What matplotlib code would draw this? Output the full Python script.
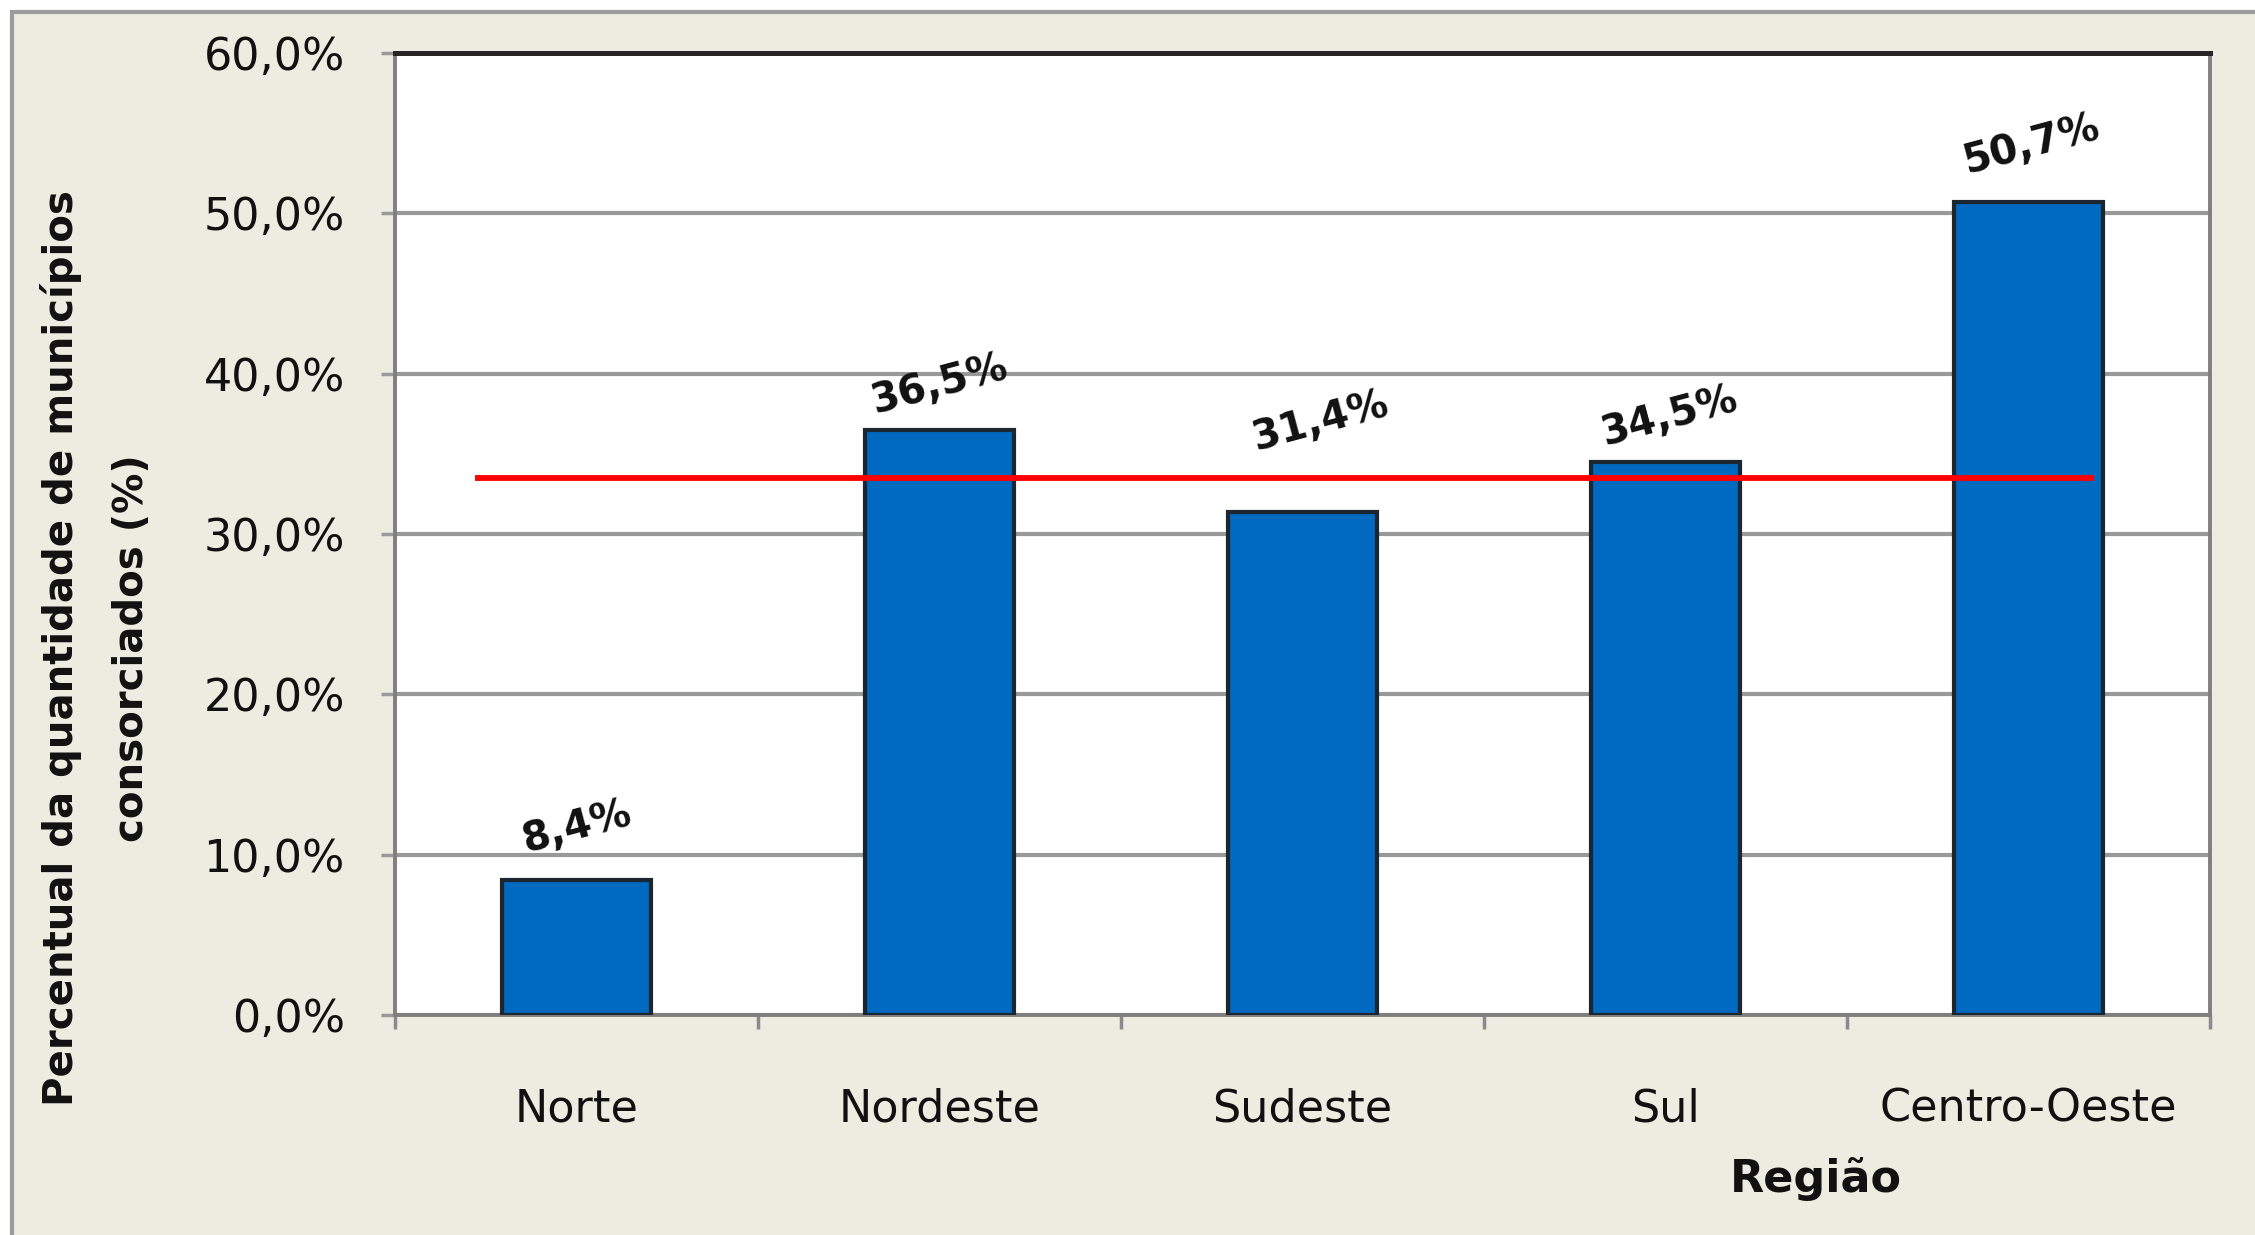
import numpy as np
import matplotlib.pyplot as plt
from matplotlib.patches import Rectangle

REGIONS = ["Norte", "Nordeste", "Sudeste", "Sul", "Centro-Oeste"]
PERCENT = [8.4, 36.5, 31.4, 34.5, 50.7]
MEAN_LINE = 33.5
Y_TICKS = [0, 10, 20, 30, 40, 50, 60]

# label placement (hand-tuned, as in the original sheet)
LABEL_OFFSET = [3.3, 2.8, 5.6, 2.8, 3.6]
LABEL_DX = [0.0, 0.0, 0.05, 0.01, 0.01]

BG = "#ECECE1"
BAR = "#0069C0"
W, H = 2255, 1235


def pct(v, dec=1):
    return f"{v:.{dec}f}".replace(".", ",") + "%"


def main():
    plt.rcParams["font.family"] = ["DejaVu Sans"]
    fig = plt.figure(figsize=(W / 100, H / 100), dpi=100, facecolor="white")

    # frame of the chart area (only top / left edges visible in the crop)
    fig.add_artist(Rectangle(
        (12 / W, -0.1), 1.2, 1.1 - 12 / H,
        transform=fig.transFigure, facecolor=BG, edgecolor="#9C9C9C",
        linewidth=3, zorder=-5,
    ))

    ax = fig.add_axes([395 / W, 1 - 1015 / H, (2210 - 395) / W, (1015 - 53) / H])
    ax.set_facecolor("white")

    x = np.arange(len(REGIONS))
    ax.bar(x, PERCENT, width=0.41, color=BAR, edgecolor="#1B2631",
           linewidth=3, zorder=3)

    for i, v in enumerate(PERCENT):
        ax.text(x[i] + LABEL_DX[i], v + LABEL_OFFSET[i], pct(v),
                ha="center", va="center", rotation=15, rotation_mode="anchor",
                fontsize=29, fontweight="bold", color="#111111", zorder=5)

    ax.hlines(MEAN_LINE, -0.28, 4.18, colors="#FF0000", linewidth=4.2, zorder=4)

    ax.set_xlim(-0.5, len(REGIONS) - 0.5)
    ax.set_ylim(0, 60)
    ax.set_yticks(Y_TICKS)
    ax.set_yticklabels([pct(t) for t in Y_TICKS], fontsize=32, color="#111111")
    ax.yaxis.grid(True, color="#999999", linewidth=3, zorder=1)
    ax.set_axisbelow(True)

    ax.set_xticks(x)
    ax.set_xticklabels(REGIONS, fontsize=32, color="#111111")
    ax.set_xticks(np.arange(-0.5, len(REGIONS)), minor=True)
    ax.tick_params(axis="x", which="major", length=0, pad=52)
    ax.tick_params(axis="x", which="minor", length=10, width=2.5, color="#8A8A8A")
    ax.tick_params(axis="y", length=10, width=2.5, color="#9A9A9A", pad=26)

    ax.spines["top"].set_color("#262626")
    ax.spines["top"].set_linewidth(3.6)
    for s in ["left", "right", "bottom"]:
        ax.spines[s].set_color("#7F7F7F")
        ax.spines[s].set_linewidth(2.8)

    fig.text(96 / W, 1 - 648 / H,
             "Percentual da quantidade de municípios\nconsorciados (%)",
             rotation=90, ha="center", va="center", fontsize=29,
             fontweight="bold", color="#111111", linespacing=1.95)
    fig.text(1816 / W, 1 - 1179 / H, "Região", ha="center", va="center",
             fontsize=32, fontweight="bold", color="#111111")

    fig.savefig("out.png", dpi=100, facecolor=fig.get_facecolor())
    plt.close(fig)


if __name__ == "__main__":
    main()
